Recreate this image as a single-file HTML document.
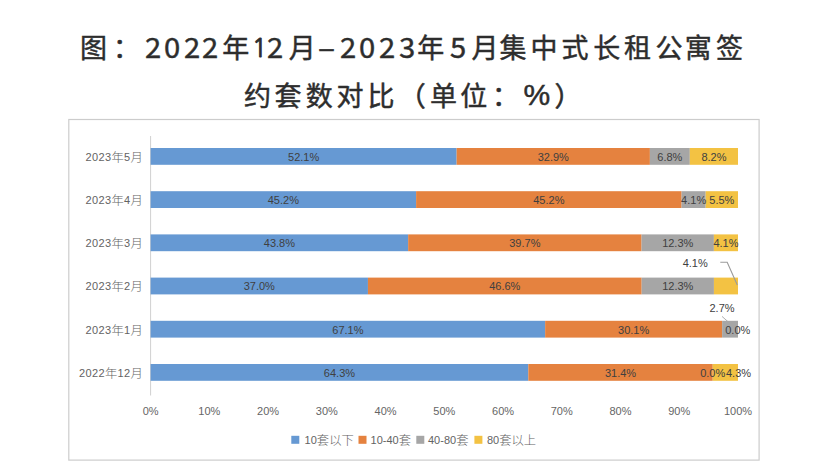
<!DOCTYPE html>
<html><head><meta charset="utf-8"><style>
html,body{margin:0;padding:0;background:#fff;}
body{width:828px;height:471px;position:relative;overflow:hidden;}
.g{position:absolute;white-space:nowrap;font-family:"Noto Sans CJK SC",sans-serif;font-weight:400;font-size:27px;line-height:1;color:#2d2d2d;-webkit-text-stroke:0.45px #2d2d2d;}
.g.d{transform:scale(1.08,1.05);transform-origin:0 24px;-webkit-text-stroke:0.4px #2d2d2d;}
.g.p{font-family:"Liberation Sans",sans-serif;font-weight:400;font-size:30px;-webkit-text-stroke:0.5px #2d2d2d;}
.g.par{-webkit-text-stroke:0.6px #2d2d2d;}
.g.one{font-family:"NanumGothic",sans-serif;font-size:25px;-webkit-text-stroke:0.9px #2d2d2d;}
.g.dash{transform:scaleX(1.18);transform-origin:0 0;}
svg{position:absolute;left:0;top:0;}
text{font-family:"Liberation Sans",sans-serif;font-size:11px;}
.cj{font-family:"Noto Sans CJK SC",sans-serif;font-size:12.3px;font-weight:300;baseline-shift:-0.8px;}
.dl{fill:#404040;}
.yl{fill:#636363;letter-spacing:0.35px;}
.xl{fill:#656565;}
.lg{fill:#636363;}
</style></head><body>
<span class="g" style="left:80.0px;top:33px">图</span>
<span class="g" style="left:113.0px;top:33px">：</span>
<span class="g d" style="left:145.0px;top:33px">2</span>
<span class="g d" style="left:164.4px;top:33px">0</span>
<span class="g d" style="left:183.7px;top:33px">2</span>
<span class="g d" style="left:202.3px;top:33px">2</span>
<span class="g" style="left:222.3px;top:33px">年</span>
<span class="g one" style="left:252.1px;top:36.3px">1</span>
<span class="g d" style="left:267.0px;top:33px">2</span>
<span class="g" style="left:288.8px;top:33px">月</span>
<span class="g dash" style="left:317.5px;top:32.5px">–</span>
<span class="g d" style="left:339.9px;top:33px">2</span>
<span class="g d" style="left:359.2px;top:33px">0</span>
<span class="g d" style="left:378.5px;top:33px">2</span>
<span class="g d" style="left:398.8px;top:33px">3</span>
<span class="g" style="left:417.2px;top:33px">年</span>
<span class="g d" style="left:449.6px;top:33px">5</span>
<span class="g" style="left:471.5px;top:33px">月</span>
<span class="g" style="left:499.6px;top:33px">集</span>
<span class="g" style="left:530.6px;top:33px">中</span>
<span class="g" style="left:561.5px;top:33px">式</span>
<span class="g" style="left:593.2px;top:33px">长</span>
<span class="g" style="left:624.0px;top:33px">租</span>
<span class="g" style="left:655.6px;top:33px">公</span>
<span class="g" style="left:684.8px;top:33px">寓</span>
<span class="g" style="left:716.0px;top:33px">签</span>
<span class="g" style="left:244.1px;top:80.5px">约</span>
<span class="g" style="left:274.4px;top:80.5px">套</span>
<span class="g" style="left:305.7px;top:80.5px">数</span>
<span class="g" style="left:336.5px;top:80.5px">对</span>
<span class="g" style="left:367.4px;top:80.5px">比</span>
<span class="g par" style="left:398.7px;top:80.5px">（</span>
<span class="g" style="left:429.9px;top:80.5px">单</span>
<span class="g" style="left:460.3px;top:80.5px">位</span>
<span class="g" style="left:492.0px;top:80.5px">：</span>
<span class="g p" style="left:523.6px;top:79.6px">%</span>
<span class="g par" style="left:554.6px;top:80.5px">）</span>
<svg width="828" height="471" viewBox="0 0 828 471">
<rect x="68.8" y="119.5" width="690.3" height="340.6" fill="none" stroke="#cccccc" stroke-width="1.2"/>
<line x1="150.6" y1="136" x2="150.6" y2="395.5" stroke="#d0d0d0" stroke-width="1"/>
<rect x="150.60" y="148.00" width="306.04" height="16.8" fill="#6699d3"/>
<rect x="456.64" y="148.00" width="193.25" height="16.8" fill="#e5823f"/>
<rect x="649.89" y="148.00" width="39.94" height="16.8" fill="#a6a6a6"/>
<rect x="689.83" y="148.00" width="48.17" height="16.8" fill="#f3c243"/>
<rect x="150.60" y="191.20" width="265.50" height="16.8" fill="#6699d3"/>
<rect x="416.10" y="191.20" width="265.50" height="16.8" fill="#e5823f"/>
<rect x="681.61" y="191.20" width="24.08" height="16.8" fill="#a6a6a6"/>
<rect x="705.69" y="191.20" width="32.31" height="16.8" fill="#f3c243"/>
<rect x="150.60" y="234.40" width="257.54" height="16.8" fill="#6699d3"/>
<rect x="408.14" y="234.40" width="233.43" height="16.8" fill="#e5823f"/>
<rect x="641.57" y="234.40" width="72.32" height="16.8" fill="#a6a6a6"/>
<rect x="713.89" y="234.40" width="24.11" height="16.8" fill="#f3c243"/>
<rect x="150.60" y="277.60" width="217.34" height="16.8" fill="#6699d3"/>
<rect x="367.94" y="277.60" width="273.73" height="16.8" fill="#e5823f"/>
<rect x="641.67" y="277.60" width="72.25" height="16.8" fill="#a6a6a6"/>
<rect x="713.92" y="277.60" width="24.08" height="16.8" fill="#f3c243"/>
<rect x="150.60" y="320.80" width="394.54" height="16.8" fill="#6699d3"/>
<rect x="545.14" y="320.80" width="176.98" height="16.8" fill="#e5823f"/>
<rect x="722.12" y="320.80" width="15.88" height="16.8" fill="#a6a6a6"/>
<rect x="150.60" y="364.00" width="377.70" height="16.8" fill="#6699d3"/>
<rect x="528.30" y="364.00" width="184.44" height="16.8" fill="#e5823f"/>
<rect x="712.74" y="364.00" width="25.26" height="16.8" fill="#f3c243"/>
<polyline points="720.3,262.2 727.2,262.2 737.3,285" fill="none" stroke="#9a9a9a" stroke-width="1.1"/>
<polyline points="722,316.4 728,321.7" fill="none" stroke="#a6a6a6" stroke-width="0.9"/>
<rect x="291.3" y="435.8" width="8" height="8" fill="#6699d3"/>
<rect x="358.5" y="435.8" width="8" height="8" fill="#e5823f"/>
<rect x="416.3" y="435.8" width="8" height="8" fill="#a6a6a6"/>
<rect x="474.4" y="435.8" width="8" height="8" fill="#f3c243"/>
<text x="143.2" y="160.70" text-anchor="end" class="yl">2023<tspan class="cj">年</tspan>5<tspan class="cj">月</tspan></text>
<text x="143.2" y="203.90" text-anchor="end" class="yl">2023<tspan class="cj">年</tspan>4<tspan class="cj">月</tspan></text>
<text x="143.2" y="247.10" text-anchor="end" class="yl">2023<tspan class="cj">年</tspan>3<tspan class="cj">月</tspan></text>
<text x="143.2" y="290.30" text-anchor="end" class="yl">2023<tspan class="cj">年</tspan>2<tspan class="cj">月</tspan></text>
<text x="143.2" y="333.50" text-anchor="end" class="yl">2023<tspan class="cj">年</tspan>1<tspan class="cj">月</tspan></text>
<text x="143.2" y="376.70" text-anchor="end" class="yl">2022<tspan class="cj">年</tspan>12<tspan class="cj">月</tspan></text>
<text x="303.62" y="160.70" text-anchor="middle" class="dl">52.1%</text>
<text x="553.26" y="160.70" text-anchor="middle" class="dl">32.9%</text>
<text x="669.86" y="160.70" text-anchor="middle" class="dl">6.8%</text>
<text x="713.92" y="160.70" text-anchor="middle" class="dl">8.2%</text>
<text x="283.35" y="203.90" text-anchor="middle" class="dl">45.2%</text>
<text x="548.86" y="203.90" text-anchor="middle" class="dl">45.2%</text>
<text x="693.65" y="203.90" text-anchor="middle" class="dl">4.1%</text>
<text x="721.85" y="203.90" text-anchor="middle" class="dl">5.5%</text>
<text x="279.37" y="247.10" text-anchor="middle" class="dl">43.8%</text>
<text x="524.85" y="247.10" text-anchor="middle" class="dl">39.7%</text>
<text x="677.73" y="247.10" text-anchor="middle" class="dl">12.3%</text>
<text x="725.95" y="247.10" text-anchor="middle" class="dl">4.1%</text>
<text x="259.27" y="290.30" text-anchor="middle" class="dl">37.0%</text>
<text x="504.80" y="290.30" text-anchor="middle" class="dl">46.6%</text>
<text x="677.79" y="290.30" text-anchor="middle" class="dl">12.3%</text>
<text x="695.20" y="266.60" text-anchor="middle" class="dl">4.1%</text>
<text x="347.87" y="333.50" text-anchor="middle" class="dl">67.1%</text>
<text x="633.63" y="333.50" text-anchor="middle" class="dl">30.1%</text>
<text x="722.00" y="311.80" text-anchor="middle" class="dl">2.7%</text>
<text x="737.80" y="333.90" text-anchor="middle" class="dl">0.0%</text>
<text x="339.45" y="376.70" text-anchor="middle" class="dl">64.3%</text>
<text x="620.52" y="376.70" text-anchor="middle" class="dl">31.4%</text>
<text x="712.70" y="376.70" text-anchor="middle" class="dl">0.0%</text>
<text x="738.50" y="376.70" text-anchor="middle" class="dl">4.3%</text>
<text x="150.60" y="414.8" text-anchor="middle" class="xl">0%</text>
<text x="209.34" y="414.8" text-anchor="middle" class="xl">10%</text>
<text x="268.08" y="414.8" text-anchor="middle" class="xl">20%</text>
<text x="326.82" y="414.8" text-anchor="middle" class="xl">30%</text>
<text x="385.56" y="414.8" text-anchor="middle" class="xl">40%</text>
<text x="444.30" y="414.8" text-anchor="middle" class="xl">50%</text>
<text x="503.04" y="414.8" text-anchor="middle" class="xl">60%</text>
<text x="561.78" y="414.8" text-anchor="middle" class="xl">70%</text>
<text x="620.52" y="414.8" text-anchor="middle" class="xl">80%</text>
<text x="679.26" y="414.8" text-anchor="middle" class="xl">90%</text>
<text x="738.00" y="414.8" text-anchor="middle" class="xl">100%</text>
<text x="304.6" y="443.8" class="lg">10<tspan class="cj">套以下</tspan></text>
<text x="370.6" y="443.8" class="lg">10-40<tspan class="cj">套</tspan></text>
<text x="428.0" y="443.8" class="lg">40-80<tspan class="cj">套</tspan></text>
<text x="486.9" y="443.8" class="lg">80<tspan class="cj">套以上</tspan></text>
</svg>
</body></html>
